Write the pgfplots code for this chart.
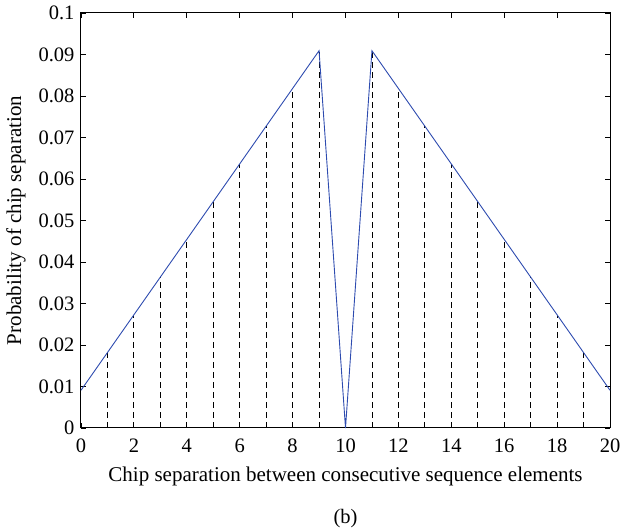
\documentclass[border=0pt]{standalone}
\usepackage{fontspec}
\setmainfont{Liberation Serif}
\usepackage{pgfplots}
\pgfplotsset{compat=1.18}
\definecolor{mblue}{RGB}{45,75,175}
\begin{document}
\begin{tikzpicture}
\begin{axis}[
  scale only axis,
  width=529pt, height=415pt,
  xmin=0, xmax=20, ymin=0, ymax=0.1,
  xtick={0,2,...,20},
  ytick={0,0.01,...,0.1},
  yticklabels={0,0.01,0.02,0.03,0.04,0.05,0.06,0.07,0.08,0.09,0.1},
  tick align=inside,
  tick pos=both,
  major tick length=5pt,
  axis line style={line width=1pt},
  tick style={line width=0.8pt, black},
  ticklabel style={font=\fontsize{20.5}{24}\selectfont},
  xticklabel style={yshift=-7pt},
  yticklabel style={xshift=-3pt},
  /pgf/number format/assume math mode=true,
  xlabel={Chip separation between consecutive sequence elements},
  ylabel={Probability of chip separation},
  label style={font=\fontsize{21}{24}\selectfont},
  xlabel style={yshift=-8pt},
  ylabel style={yshift=6pt},
  clip=false,
]
\addplot[ycomb, black, line width=0.8pt, dash pattern=on 6pt off 4pt, mark=none] coordinates {
(1,0.018182) (2,0.027273) (3,0.036364) (4,0.045455) (5,0.054545)
(6,0.063636) (7,0.072727) (8,0.081818) (9,0.090909)
(11,0.090909) (12,0.081818) (13,0.072727) (14,0.063636) (15,0.054545)
(16,0.045455) (17,0.036364) (18,0.027273) (19,0.018182)
};
\addplot[mblue, line width=0.9pt, mark=none] coordinates {
(0,0.009091) (1,0.018182) (2,0.027273) (3,0.036364) (4,0.045455) (5,0.054545)
(6,0.063636) (7,0.072727) (8,0.081818) (9,0.090909) (10,0)
(11,0.090909) (12,0.081818) (13,0.072727) (14,0.063636) (15,0.054545)
(16,0.045455) (17,0.036364) (18,0.027273) (19,0.018182) (20,0.009091)
};
\coordinate (sw) at (rel axis cs:0,0);
\coordinate (ne) at (rel axis cs:1,1);
\node[font=\fontsize{20.5}{24}\selectfont, anchor=base] at ([yshift=-95pt]rel axis cs:0.5,0) {(b)};
\end{axis}
\pgfresetboundingbox
\path ([xshift=-81pt,yshift=-101pt]sw) rectangle ([xshift=13pt,yshift=13pt]ne);
\end{tikzpicture}
\end{document}
